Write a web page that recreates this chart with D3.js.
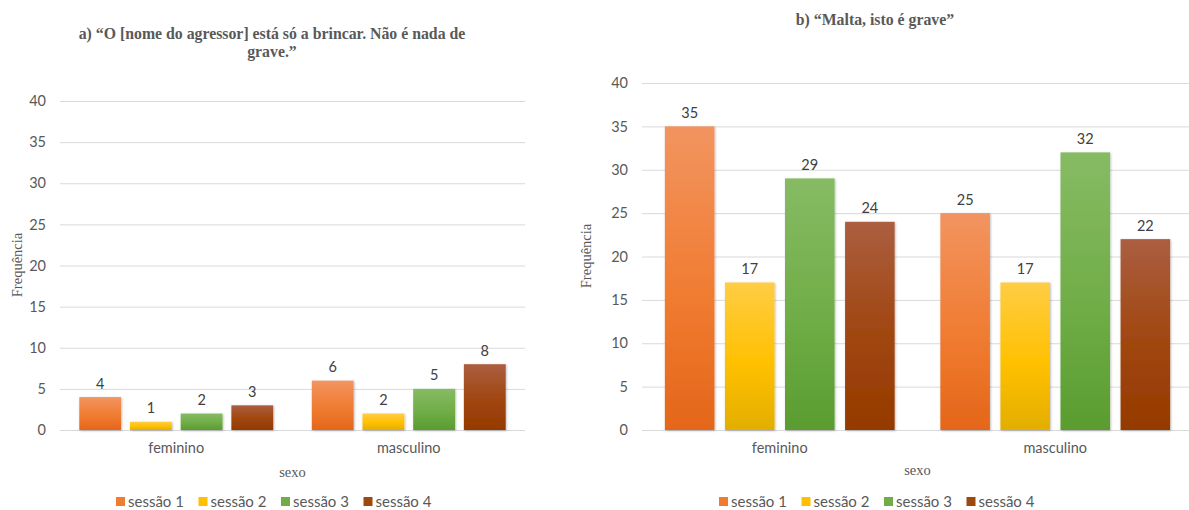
<!DOCTYPE html>
<html>
<head>
<meta charset="utf-8">
<script src="https://cdn.jsdelivr.net/npm/d3@7"></script>
<style>
  html, body { margin: 0; padding: 0; background: #fff; }
  svg { display: block; }
</style>
</head>
<body>
<svg id="chart" width="1189" height="510"></svg>
<script>
// Categories, series and ticks
const categories = ["feminino", "masculino"];
const sessions = ["sessão 1", "sessão 2", "sessão 3", "sessão 4"];
const yTicks = [0, 5, 10, 15, 20, 25, 30, 35, 40];

// Panel a) values per session, ordered [feminino, masculino]
const valuesA = [
  [4, 6],
  [1, 2],
  [2, 5],
  [3, 8]
];
// Panel b) values per session, ordered [feminino, masculino]
const valuesB = [
  [35, 25],
  [17, 17],
  [29, 32],
  [24, 22]
];

const titleA = ["a) “O [nome do agressor] está só a brincar. Não é nada de", "grave.”"];
const titleB = ["b) “Malta, isto é grave”"];

// Vertical gradient stops (top, middle, bottom) for each session
const gradients = [
  ["#f29460", "#f07c32", "#e4661a"],
  ["#ffcd45", "#ffc000", "#e3ae00"],
  ["#86bb64", "#70ad47", "#5a9c30"],
  ["#ab5e40", "#a0460f", "#953a00"]
];
const legendColors = ["#f07c32", "#ffc000", "#70ad47", "#9e480e"];

const svg = d3.select("#chart");
const defs = svg.append("defs");
gradients.forEach((g, i) => {
  const lg = defs.append("linearGradient")
    .attr("id", "grad" + i)
    .attr("x1", 0).attr("y1", 0).attr("x2", 0).attr("y2", 1);
  lg.append("stop").attr("offset", "0%").attr("stop-color", g[0]);
  lg.append("stop").attr("offset", "55%").attr("stop-color", g[1]);
  lg.append("stop").attr("offset", "100%").attr("stop-color", g[2]);
});
const shadow = defs.append("filter").attr("id", "shadow")
  .attr("x", "-20%").attr("y", "-20%").attr("width", "140%").attr("height", "140%");
shadow.append("feDropShadow")
  .attr("dx", 0.8).attr("dy", 0.8).attr("stdDeviation", 0.9)
  .attr("flood-color", "#000").attr("flood-opacity", 0.28);

const tickFont = "Lato, 'Open Sans', sans-serif";
const serifFont = "'Liberation Serif', 'DejaVu Serif', serif";

function drawPanel(cfg) {
  const g = svg.append("g");
  const y = d3.scaleLinear().domain([0, 40]).range([cfg.bottom, cfg.top]);
  const x0 = d3.scaleBand().domain(categories).range([cfg.left, cfg.right]);
  const bw = x0.bandwidth();
  const x1 = d3.scaleBand().domain(d3.range(sessions.length))
    .range([0.083 * bw, 0.917 * bw]).paddingInner(0.175);

  // Title
  cfg.title.forEach((line, i) => {
    g.append("text")
      .attr("x", cfg.titleX).attr("y", cfg.titleY + i * 18)
      .attr("text-anchor", "middle").attr("dominant-baseline", "central")
      .attr("font-family", serifFont).attr("font-weight", "bold")
      .attr("font-size", 15.8).attr("fill", "#595959")
      .text(line);
  });

  // Gridlines and y-axis labels
  const yAxis = d3.axisLeft(y).tickValues(yTicks)
    .tickSize(-(cfg.gridRight - cfg.left)).tickPadding(14);
  const ya = g.append("g").attr("transform", `translate(${cfg.left},0)`).call(yAxis);
  ya.select(".domain").remove();
  ya.selectAll(".tick line").attr("stroke", "#d9d9d9").attr("stroke-width", 1);
  ya.selectAll(".tick text")
    .attr("font-family", tickFont).attr("font-size", 14.5).attr("fill", "#595959");

  // Category axis labels
  const xAxis = d3.axisBottom(x0).tickSize(0).tickPadding(13);
  const xa = g.append("g").attr("transform", `translate(0,${cfg.bottom})`).call(xAxis);
  xa.select(".domain").remove();
  xa.selectAll(".tick text")
    .attr("font-family", tickFont).attr("font-size", 14.5).attr("fill", "#595959");

  // Bars and value labels
  cfg.values.forEach((series, s) => {
    const sg = g.append("g");
    sg.selectAll("rect").data(series).join("rect")
      .attr("x", (d, i) => x0(categories[i]) + x1(s))
      .attr("y", d => y(d))
      .attr("width", x1.bandwidth())
      .attr("height", d => y(0) - y(d))
      .attr("fill", `url(#grad${s})`)
      .attr("filter", "url(#shadow)");
    sg.selectAll("text").data(series).join("text")
      .attr("x", (d, i) => x0(categories[i]) + x1(s) + x1.bandwidth() / 2)
      .attr("y", d => y(d) - 14)
      .attr("text-anchor", "middle").attr("dominant-baseline", "central")
      .attr("font-family", tickFont).attr("font-size", 14.5).attr("fill", "#404040")
      .text(d => d);
  });

  // Axis titles
  g.append("text")
    .attr("x", (cfg.left + cfg.right) / 2).attr("y", cfg.sexoY)
    .attr("text-anchor", "middle").attr("dominant-baseline", "central")
    .attr("font-family", serifFont).attr("font-size", 14.5).attr("fill", "#595959")
    .text("sexo");
  g.append("text")
    .attr("transform", `translate(${cfg.freqX},${cfg.freqY}) rotate(-90)`)
    .attr("text-anchor", "middle").attr("dominant-baseline", "central")
    .attr("font-family", serifFont).attr("font-size", 14.5).attr("fill", "#595959")
    .text("Frequência");

  // Legend
  const lg = g.append("g");
  sessions.forEach((name, i) => {
    const lx = cfg.legendX + i * 82.5;
    lg.append("rect")
      .attr("x", lx).attr("y", cfg.legendY - 4)
      .attr("width", 9).attr("height", 9)
      .attr("fill", legendColors[i]);
    lg.append("text")
      .attr("x", lx + 12).attr("y", cfg.legendY)
      .attr("dominant-baseline", "central")
      .attr("font-family", tickFont).attr("font-size", 15).attr("fill", "#595959")
      .text(name);
  });
}

drawPanel({
  values: valuesA, title: titleA,
  titleX: 272, titleY: 33,
  left: 60, right: 525, gridRight: 525,
  top: 101, bottom: 430,
  sexoY: 472, freqX: 17, freqY: 265,
  legendX: 116, legendY: 501
});

drawPanel({
  values: valuesB, title: titleB,
  titleX: 875, titleY: 19,
  left: 642, right: 1193, gridRight: 1189,
  top: 83, bottom: 430,
  sexoY: 470, freqX: 586, freqY: 256,
  legendX: 719, legendY: 501
});
</script>
</body>
</html>
